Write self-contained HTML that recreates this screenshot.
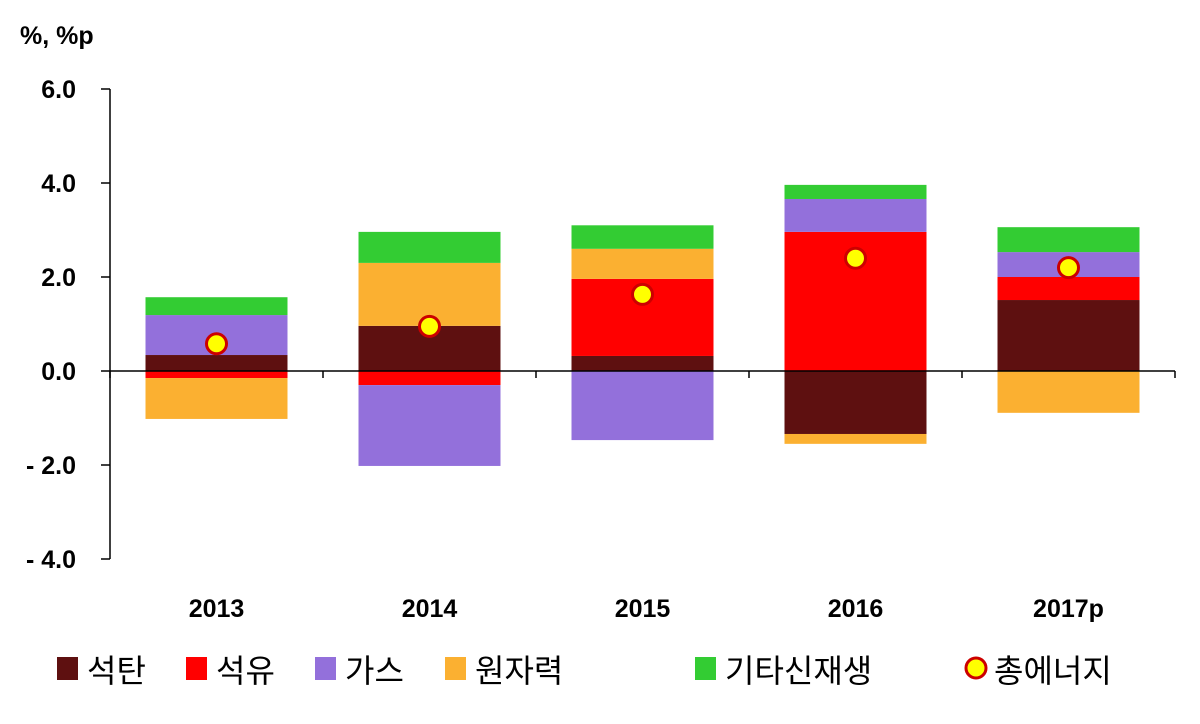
<!DOCTYPE html>
<html><head><meta charset="utf-8"><style>
body{margin:0;background:#fff;}
svg text{font-family:"Liberation Sans","Noto Sans CJK KR",sans-serif;}
</style></head><body>
<svg width="1200" height="719" viewBox="0 0 1200 719" id="chart">
<text x="20" y="44" font-size="25" font-weight="bold">%, %p</text>
<g id="bars"></g>
<g id="axes"></g>
<g id="markers"></g>
<g id="legend"></g>
</svg>
<script>
const categories=["2013","2014","2015","2016","2017p"];
const coal=[0.34,0.96,0.32,-1.34,1.51];
const oil=[-0.15,-0.30,1.64,2.96,0.49];
const gas=[0.85,-1.72,-1.47,0.70,0.53];
const nuclear=[-0.87,1.34,0.64,-0.21,-0.89];
const renew=[0.38,0.66,0.50,0.30,0.53];
const total=[0.58,0.95,1.63,2.40,2.20];
const yTicks=[6,4,2,0,-2,-4];
const yTickLabels=["6.0","4.0","2.0","0.0","- 2.0","- 4.0"];
const seriesNames=["석탄","석유","가스","원자력","기타신재생"];
const totalName="총에너지";

const NS="http://www.w3.org/2000/svg";
const colors=["#5E1010","#FF0000","#9370DB","#FBB031","#33CC33"];
const plotL=110,plotR=1175,y0=371,ppu=47;
const y=v=>y0-v*ppu;
const band=(plotR-plotL)/categories.length;
const xc=i=>plotL+band*(i+0.5);
const bw=142;
function mk(tag,attrs,parent){const e=document.createElementNS(NS,tag);for(const k in attrs)e.setAttribute(k,attrs[k]);parent.appendChild(e);return e;}
const series=[coal,oil,gas,nuclear,renew];
const gb=document.getElementById('bars');
categories.forEach((c,i)=>{
  let pos=0,neg=0;
  series.forEach((s,si)=>{
    const v=s[i];let a,b;
    if(v>=0){a=pos;b=pos+v;pos=b;}else{a=neg;b=neg+v;neg=b;}
    const r=mk('rect',{x:xc(i)-bw/2,y:Math.min(y(a),y(b)),width:bw,height:Math.abs(y(a)-y(b)),fill:colors[si]},gb);
    
    
  });
});
const ga=document.getElementById('axes');
let l=mk('line',{x1:plotL,y1:y(6),x2:plotL,y2:y(-4),stroke:'#000','stroke-width':1.5},ga);

l=mk('line',{x1:plotL,y1:y0,x2:plotR,y2:y0,stroke:'#000','stroke-width':1.5},ga);

yTicks.forEach((t,i)=>{
  mk('line',{x1:plotL-9,y1:y(t),x2:plotL,y2:y(t),stroke:'#000','stroke-width':1.5},ga);
  const tx=mk('text',{x:76,y:y(t)+9,'font-size':25,'font-weight':'bold','text-anchor':'end'},ga);
  tx.textContent=yTickLabels[i];
  
});
for(let i=0;i<=categories.length;i++){mk('line',{x1:plotL+band*i,y1:y0,x2:plotL+band*i,y2:y0+7,stroke:'#000','stroke-width':1.5},ga);}
categories.forEach((c,i)=>{
  const tx=mk('text',{x:xc(i),y:617,'font-size':25,'font-weight':'bold','text-anchor':'middle'},ga);
  tx.textContent=c;
  
});
const gm=document.getElementById('markers');
total.forEach((v,i)=>{
  const c=mk('circle',{cx:xc(i),cy:y(v),r:10,fill:'#FFFF00',stroke:'#CC0000','stroke-width':3},gm);
  
});
const gl=document.getElementById('legend');
const lx=[57,186,315,445,695];
seriesNames.forEach((n,i)=>{
  const g=mk('g',{},gl);
  
  mk('rect',{x:lx[i],y:657,width:21,height:23,fill:colors[i]},g);
  const t=mk('text',{x:lx[i]+30,y:682,'font-size':32},g);t.textContent=n;
});
const g=mk('g',{},gl);

mk('circle',{cx:976,cy:668,r:10,fill:'#FFFF00',stroke:'#CC0000','stroke-width':3},g);
const t=mk('text',{x:994,y:682,'font-size':32},g);t.textContent=totalName;
</script>
</body></html>
